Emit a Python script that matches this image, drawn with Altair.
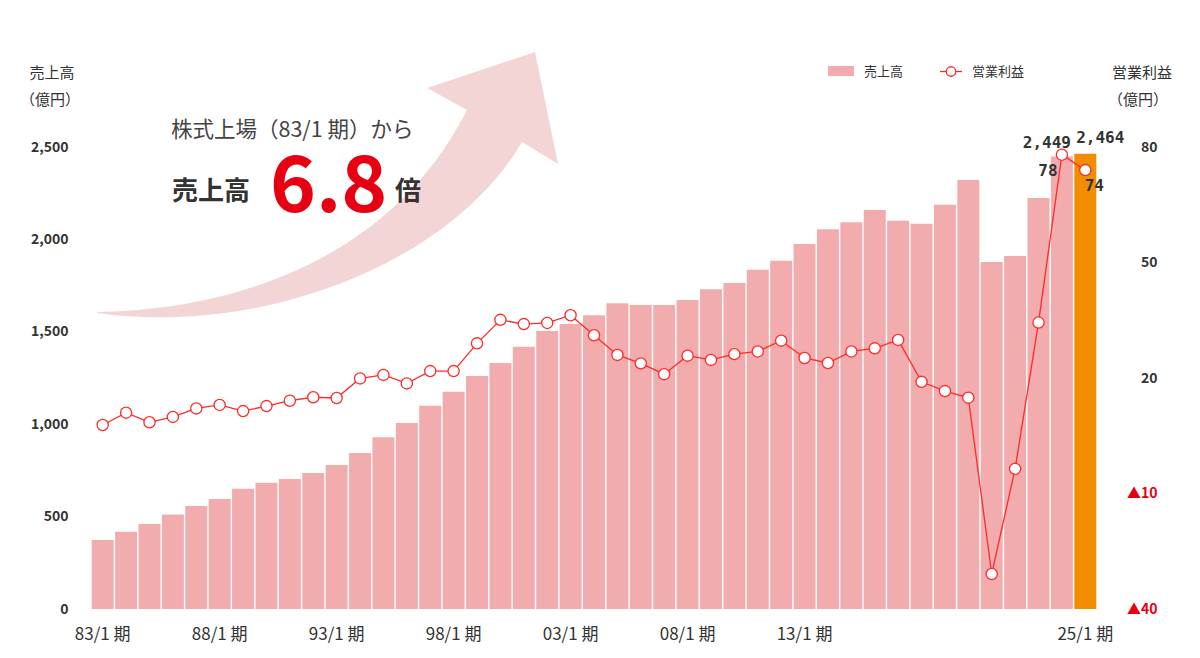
import altair as alt
import pandas as pd
import numpy as np

# ---------------- data ----------------
periods = [
    "83/1 期", "84/1 期", "85/1 期", "86/1 期", "87/1 期", "88/1 期", "89/1 期", "90/1 期",
    "91/1 期", "92/1 期", "93/1 期", "94/1 期", "95/1 期", "96/1 期", "97/1 期", "98/1 期",
    "99/1 期", "00/1 期", "01/1 期", "02/1 期", "03/1 期", "04/1 期", "05/1 期", "06/1 期",
    "07/1 期", "08/1 期", "09/1 期", "10/1 期", "11/1 期", "12/1 期", "13/1 期", "14/1 期",
    "15/1 期", "16/1 期", "17/1 期", "18/1 期", "19/1 期", "20/1 期", "21/1 期", "22/1 期",
    "23/1 期", "24/1 期", "25/1 期",
]
sales = [
    373, 418, 460, 512, 557, 595, 651, 683, 703, 736, 779, 844, 929, 1006, 1100, 1176,
    1261, 1331, 1419, 1504, 1542, 1589, 1654, 1645, 1645, 1672, 1730, 1764, 1836, 1885,
    1975, 2055, 2093, 2159, 2101, 2085, 2188, 2321, 1878, 1910, 2224, 2449, 2464,
]
op_profit = [
    7.8, 11.0, 8.5, 9.9, 12.1, 13.0, 11.4, 12.7, 14.1, 15.0, 14.8, 19.9, 20.8, 18.6, 21.8, 21.8,
    29.0, 35.1, 34.0, 34.3, 36.3, 31.1, 26.0, 23.8, 21.0, 25.8, 24.7, 26.2, 26.9, 29.7,
    25.2, 23.9, 26.9, 27.7, 29.9, 19.0, 16.6, 14.9, -30.9, -3.6, 34.4, 78, 74,
]
axis_periods = ["83/1 期", "88/1 期", "93/1 期", "98/1 期", "03/1 期", "08/1 期", "13/1 期", "25/1 期"]
left_ticks = [0, 500, 1000, 1500, 2000, 2500]
right_ticks = [-40, -10, 20, 50, 80]

df = pd.DataFrame({"period": periods, "sales": sales, "profit": op_profit})

# ---------------- style ----------------
FONT = "Noto Sans CJK JP"
MONO = "DejaVu Sans Mono"
PINK = "#F2ACAD"
ORANGE = "#F28C00"
RED = "#FF2A2A"
ARROW = "#F4D5D6"
DARK = "#333333"
ACCENT = "#E60012"

W, H = 1006, 462
OX, OY = 91, 147  # page position of plot origin

x_enc = alt.X(
    "period:N", sort=periods,
    scale=alt.Scale(paddingInner=0.06, paddingOuter=0.03),
    axis=alt.Axis(values=axis_periods, labelAngle=0, labelFont=FONT, labelFontSize=17,
                  labelColor=DARK, labelPadding=17, domain=False, ticks=False,
                  grid=False, title=None),
)
x_plain = alt.X("period:N", sort=periods)

# ---------------- left: sales bars ----------------
bars = alt.Chart(df).mark_bar().encode(
    x=x_enc,
    y=alt.Y("sales:Q", scale=alt.Scale(domain=[0, 2500], nice=False),
            axis=alt.Axis(orient="left", values=left_ticks,
                          labelExpr="format(datum.value, ',d')", labelFont=FONT,
                          labelFontSize=14, labelFontWeight="bold", labelColor=DARK,
                          labelPadding=23, domain=False, ticks=False, grid=False, title=None)),
    color=alt.condition(alt.datum.period == periods[-1], alt.value(ORANGE), alt.value(PINK)),
)
lab_a = alt.Chart(df).transform_filter(alt.datum.period == periods[-2]).mark_text(
    font=MONO, fontWeight="bold", fontSize=16, color=DARK, dx=-15, dy=-13, baseline="middle"
).encode(x=x_plain, y="sales:Q", text=alt.Text("sales:Q", format=","))
lab_b = alt.Chart(df).transform_filter(alt.datum.period == periods[-1]).mark_text(
    font=MONO, fontWeight="bold", fontSize=16, color=DARK, dx=15, dy=-16, baseline="middle"
).encode(x=x_plain, y="sales:Q", text=alt.Text("sales:Q", format=","))
left = alt.layer(bars, lab_a, lab_b)

# ---------------- right: operating profit line ----------------
y_right = alt.Y(
    "profit:Q", scale=alt.Scale(domain=[-40, 80], nice=False),
    axis=alt.Axis(orient="right", values=right_ticks,
                  labelExpr="datum.value < 0 ? '▲' + abs(datum.value) : datum.label",
                  labelColor={"condition": {"test": "datum.value < 0", "value": ACCENT}, "value": DARK},
                  labelFont=FONT, labelFontSize=14, labelFontWeight="bold", labelAlign="right",
                  labelPadding=60, domain=False, ticks=False, grid=False, title=None),
)
line = alt.Chart(df).mark_line(color=RED, strokeWidth=1.3).encode(x=x_plain, y=y_right)
pts = alt.Chart(df).mark_point(filled=True, fill="white", stroke=RED, strokeWidth=1.3,
                               size=125, opacity=1).encode(x=x_plain, y="profit:Q")
lab_78 = alt.Chart(df).transform_filter(alt.datum.period == periods[-2]).mark_text(
    font=MONO, fontWeight="bold", fontSize=16, color=DARK, dx=-14, dy=16, baseline="middle"
).encode(x=x_plain, y="profit:Q", text=alt.Text("profit:Q", format="d"))
lab_74 = alt.Chart(df).transform_filter(alt.datum.period == periods[-1]).mark_text(
    font=MONO, fontWeight="bold", fontSize=16, color=DARK, dx=9, dy=16, baseline="middle"
).encode(x=x_plain, y="profit:Q", text=alt.Text("profit:Q", format="d"))
right = alt.layer(line, pts, lab_78, lab_74)

# ---------------- decorative arrow (page coordinates -> plot coordinates) ----------------
def cubic(p0, p1, p2, p3, n=48):
    t = np.linspace(0, 1, n)[:, None]
    p0, p1, p2, p3 = map(np.array, (p0, p1, p2, p3))
    return ((1 - t) ** 3) * p0 + 3 * ((1 - t) ** 2) * t * p1 + 3 * (1 - t) * t ** 2 * p2 + t ** 3 * p3

upper = cubic((97, 312), (230, 310), (390, 262), (467, 110))
lower = cubic((97, 313), (260, 336), (450, 265), (522, 142))
head = np.array([(427, 88), (535, 52), (558, 164)])
ring = np.vstack([upper, head, lower[::-1]])
ring = ring - np.array([OX, OY])
ring_list = [[float(a), float(b)] for a, b in ring] + [[float(ring[0][0]), float(ring[0][1])]]
arrow_feature = {"type": "Feature", "properties": {},
                 "geometry": {"type": "Polygon", "coordinates": [ring_list]}}
arrow = alt.Chart(alt.Data(values=[arrow_feature])).mark_geoshape(
    fill=ARROW, stroke=None, strokeWidth=0, clip=False
).project(type="identity", scale=1, translate=[0, 0])

# ---------------- texts / legend ----------------
one = pd.DataFrame({"k": [0]})

def txt(s, px, py, size, color=DARK, weight="normal", align="center", baseline="middle", font=FONT):
    return alt.Chart(one).mark_text(text=s, font=font, fontSize=size, fontWeight=weight,
                                    color=color, align=align, baseline=baseline).encode(
        x=alt.value(px - OX), y=alt.value(py - OY))

texts = [
    txt("売上高", 52, 73, 15),
    txt("（億円）", 50, 100, 15),
    txt("営業利益", 1142, 73, 15),
    txt("（億円）", 1138, 100, 15),
    txt("株式上場（83/1 期）から", 171, 131, 21.5, color="#444444", align="left"),
    txt("売上高", 172, 192, 26, weight="bold", align="left"),
    txt("6.8", 270, 212, 78, color=ACCENT, weight="bold", align="left", baseline="alphabetic"),
    txt("倍", 395, 192, 26, weight="bold", align="left"),
    txt("売上高", 864, 72, 13, align="left"),
    txt("営業利益", 972, 72, 13, align="left"),
]
leg_rect = alt.Chart(one).mark_rect(color=PINK).encode(
    x=alt.value(828 - OX), x2=alt.value(854 - OX), y=alt.value(66 - OY), y2=alt.value(76 - OY))
leg_line = alt.Chart(one).mark_rule(color=RED, strokeWidth=1.3).encode(
    x=alt.value(940 - OX), x2=alt.value(962 - OX), y=alt.value(71.5 - OY))
leg_pt = alt.Chart(one).mark_point(filled=True, fill="white", stroke=RED, strokeWidth=1.3,
                                   size=90, opacity=1).encode(
    x=alt.value(951 - OX), y=alt.value(71.5 - OY))

chart = alt.layer(
    arrow, left, right, leg_rect, leg_line, leg_pt, *texts
).resolve_scale(y="independent").properties(
    width=W, height=H,
    padding={"left": OX - 8, "top": OY - 8, "right": 1184 - (OX - 8) - W, "bottom": 41},
    autosize=alt.AutoSizeParams(type="none"),
    background="white",
).configure_view(stroke=None)

chart.save("out.html", embed_options={"renderer": "svg", "actions": False})
